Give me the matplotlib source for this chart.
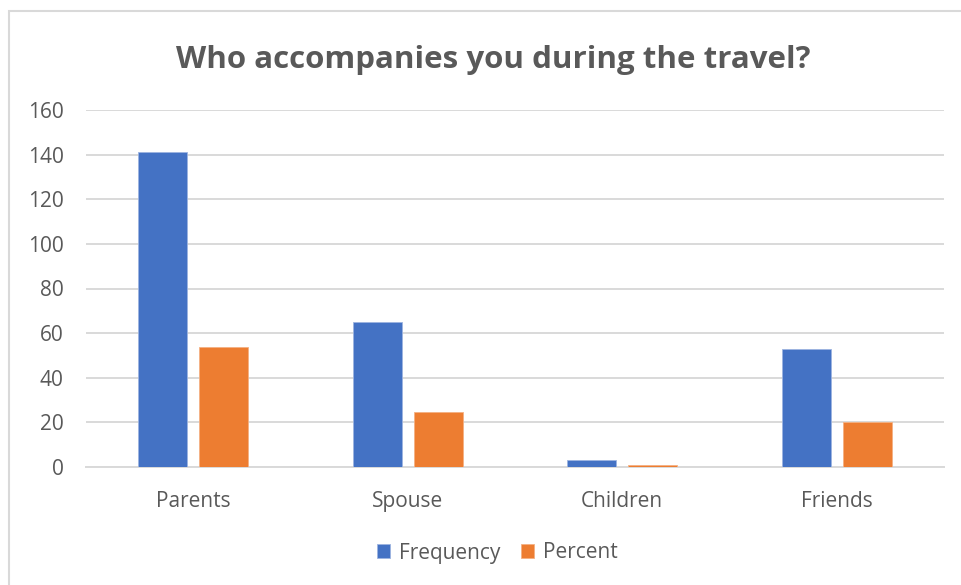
import numpy as np
import matplotlib.pyplot as plt
from matplotlib.patches import Rectangle

# Survey answers: who travels with the respondent
categories = ["Parents", "Spouse", "Children", "Friends"]
frequency = [141, 65, 3, 53]
percent = [53.8, 24.8, 1.1, 20.2]
y_ticks = [0, 20, 40, 60, 80, 100, 120, 140, 160]

blue = "#4472C4"
orange = "#ED7D31"
text_grey = "#595959"
grid_grey = "#D9D9D9"

plt.rcParams["font.family"] = ["Open Sans", "DejaVu Sans"]

fig = plt.figure(figsize=(9.61, 5.85), dpi=100)
W, H = 961, 585

# chart frame (only top and left edges end up inside the canvas)
fig.patches.append(Rectangle((9 / W, -0.1), 1.2, (H - 11) / H + 0.1,
                             transform=fig.transFigure, fill=False,
                             edgecolor=grid_grey, linewidth=1.5))

ax = fig.add_axes([86 / W, 1 - 467 / H, (944 - 86) / W, (467 - 110) / H])

x = np.arange(len(categories))
bw = 0.228
off = 0.143
ax.bar(x - off, frequency, bw, color=blue, edgecolor="#9DB4E0",
       linewidth=0.6, label="Frequency", zorder=3)
ax.bar(x + off, percent, bw, color=orange, edgecolor="#F4B183",
       linewidth=0.6, label="Percent", zorder=3)

ax.set_xlim(-0.5, len(categories) - 0.5)
ax.set_ylim(0, 160)
ax.set_yticks(y_ticks)
ax.set_xticks(x)
ax.set_xticklabels(categories)
ax.yaxis.grid(True, color=grid_grey, linewidth=1.4, zorder=0)
ax.set_axisbelow(True)
for s in ["top", "right", "left"]:
    ax.spines[s].set_visible(False)
ax.spines["bottom"].set_color(grid_grey)
ax.spines["bottom"].set_linewidth(1.4)
ax.tick_params(axis="both", length=0, labelsize=15, colors=text_grey)
ax.tick_params(axis="y", pad=16)
ax.tick_params(axis="x", pad=17)

fig.text(493 / W, 1 - 60 / H, "Who accompanies you during the travel?",
         ha="center", va="center", fontsize=22.5, fontweight="bold",
         color=text_grey)

fig.legend(loc="center", bbox_to_anchor=(497 / W, 1 - 553 / H), ncol=2,
           frameon=False, fontsize=15, labelcolor=text_grey,
           handlelength=0.65, handleheight=0.65, handletextpad=0.4,
           columnspacing=1.0)

fig.savefig("out.png", dpi=100)
